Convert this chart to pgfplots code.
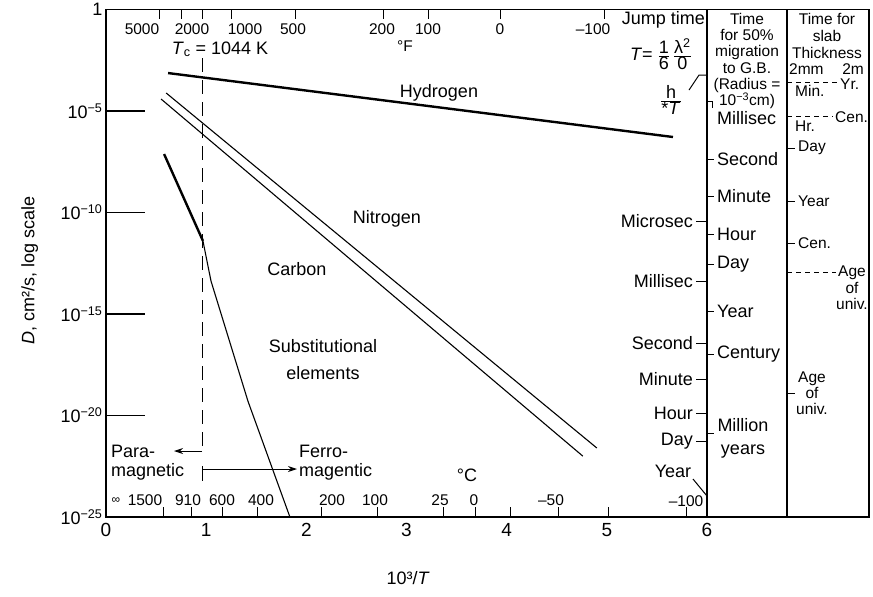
\documentclass[border=0pt]{standalone}
\usepackage{fontspec}
\setmainfont{Liberation Sans}
\usepackage{pgfplots}
\pgfplotsset{compat=1.18}
\usetikzlibrary{arrows.meta}
\newcommand\fa{\fontsize{18}{20}\selectfont}
\newcommand\fb{\fontsize{15.5}{16.2}\selectfont}
\newcommand\fx{\fontsize{19}{20}\selectfont}

\begin{document}
\begin{tikzpicture}
% page size = 873 x 595 px of the reference
\begin{scope}[shift={(-106pt,516pt)}, x=1pt, y=-1pt]
  \path[use as bounding box] (0,0) rectangle (873,595);
\end{scope}

\begin{axis}[
  scale only axis, width=763pt, height=507.5pt,
  xmin=0, xmax=7.617, ymin=-25, ymax=0,
  axis line style={line width=1.1pt},
  xtick={0,1,2,3,4,5,6}, xticklabels={0,1,2,3,4,5,6},
  xtick style={draw=none},
  xticklabel style={font=\fx, yshift=-3pt},
  ytick={-25,-20,-15,-10,-5,0},
  yticklabels={10\textsuperscript{−25},10\textsuperscript{−20},10\textsuperscript{−15},10\textsuperscript{−10},10\textsuperscript{−5},1},
  ytick pos=left, tick align=inside,
  ytick style={black, line width=1.3pt, /pgfplots/major tick length=39pt},
  yticklabel style={font=\fa},
  xlabel={10³/\textit{T}},
  xlabel style={font=\fa, at={(axis description cs:0.396,-0.12)}, anchor=center},
  ylabel={\textit{D}, cm²/s, log scale},
  ylabel style={font=\fa, at={(axis description cs:-0.1,0.485)}, anchor=center},
  clip=false,
]
% log10 D against 1000/T
\addplot[black, mark=none, line width=2.4pt] coordinates {(0.62,-3.13) (5.66,-6.28)}; % hydrogen
\addplot[black, mark=none, line width=1.1pt] coordinates {(0.60,-4.11) (4.90,-21.60)}; % nitrogen
\addplot[black, mark=none, line width=1.1pt] coordinates {(0.55,-4.41) (4.76,-22.00)}; % carbon
\addplot[black, mark=none, line width=2.4pt] coordinates {(0.58,-7.12) (0.968,-11.40)}; % substitutional, para
\addplot[black, mark=none, line width=1.1pt] coordinates {(0.968,-11.40) (1.048,-13.37) (1.417,-19.29) (1.836,-25)}; % ferro
\end{axis}

\begin{scope}[shift={(-106pt,516pt)}, x=1pt, y=-1pt, font=\fa, every node/.style={inner sep=0pt}]
  % column dividers
  \draw[line width=1.1pt] (707,8.5) -- (707,516);
  \draw[line width=1.1pt] (787,8.5) -- (787,516);

  % deg F scale (top)
  \foreach \p in {159,181,231,295,383,428,500,604} \draw[line width=1pt] (\p,8.5) -- (\p,18);
  \node[font=\fb, anchor=base] at (142,33) {5000};
  \node[font=\fb, anchor=base] at (192,33) {2000};
  \node[font=\fb, anchor=base] at (245,33) {1000};
  \node[font=\fb, anchor=base] at (293,33) {500};
  \node[font=\fb, anchor=base] at (382,33) {200};
  \node[font=\fb, anchor=base] at (428,33) {100};
  \node[font=\fb, anchor=base] at (500,33) {0};
  \node[font=\fb, anchor=base] at (593,33) {–100};
  \node[font=\fb, anchor=base] at (405,50) {°F};

  % deg C scale (bottom)
  \foreach \p in {163,191,222,257,321,377,443,475,510,558,608,686} \draw[line width=1pt] (\p,516) -- (\p,506);
  \node[font=\fontsize{12}{12}\selectfont, anchor=base] at (116,502) {∞};
  \node[font=\fb, anchor=base] at (145,504) {1500};
  \node[font=\fb, anchor=base] at (188,504) {910};
  \node[font=\fb, anchor=base] at (222,504) {600};
  \node[font=\fb, anchor=base] at (261,504) {400};
  \node[font=\fb, anchor=base] at (332,504) {200};
  \node[font=\fb, anchor=base] at (375,504) {100};
  \node[font=\fb, anchor=base] at (440,504) {25};
  \node[font=\fb, anchor=base] at (474,504) {0};
  \node[font=\fb, anchor=base] at (551,504) {–50};
  \node[font=\fb, anchor=base] at (686,505) {–100};
  \node at (467,474) {°C};

  % Curie temperature and magnetic regions
  \draw[line width=1pt] (202,8.5) -- (202,18);
  \draw[line width=1pt, dash pattern=on 14pt off 8pt] (202,57) -- (202,450);
  \node[anchor=base] at (220,53) {\textit{T}\textsubscript{c} = 1044 K};
  \draw[line width=1pt, -{Stealth[length=9pt,width=6pt]}] (202,450) -- (174,450);
  \draw[line width=1pt] (202,465) -- (202,480);
  \draw[line width=1pt, -{Stealth[length=9pt,width=6pt]}] (202,468) -- (297,468);
  \node[anchor=base west] at (111,456) {Para-};
  \node[anchor=base west] at (111,475) {magnetic};
  \node[anchor=base west] at (299,456) {Ferro-};
  \node[anchor=base west] at (299,475) {magentic};

  % curve labels
  \node[anchor=base] at (439,96) {Hydrogen};
  \node at (387,218) {Nitrogen};
  \node at (297,268) {Carbon};
  \node at (323,345) {Substitutional};
  \node at (323,372) {elements};

  % jump time scale
  \node[anchor=base east] at (705,23) {Jump time};
  \node at (661,53) {\textit{T}= $\frac{\mbox{1}}{\mbox{6}}\,\frac{\mbox{λ\textsuperscript{2}}}{\mbox{0}}$};
  \node at (671,99) {$\frac{\mbox{h}}{\mbox{*\textit{T}}}$};
  \draw[line width=1pt] (689,89) -- (699,74) -- (707,74);
  \foreach \y/\t in {220/Microsec,280/Millisec,342/Second,378/Minute,412/Hour,440/Day} {
    \draw[line width=1pt] (696,\y) -- (707,\y);
    \node[anchor=east] at (693,\y) {\t};
  }
  \node at (673,470) {Year};
  \draw[line width=1pt] (693,478) -- (707,495);

  % column 1: migration to grain boundary
  \node[font=\fb, align=center, anchor=north] at (747,12) {Time\\for 50\%\\migration\\to G.B.\\(Radius =\\10\textsuperscript{−3}cm)};
  \draw[line width=1pt] (707,100) -- (712,100) -- (712,107);
  \node[anchor=west] at (717,117) {Millisec};
  \foreach \y/\t in {158/Second,195/Minute,233/Hour,263/Day,310/Year,353/Century} {
    \draw[line width=1pt] (707,\y) -- (714,\y);
    \node[anchor=west] at (717,\y) {\t};
  }
  \draw[line width=1pt] (707,432) -- (714,432);
  \node[align=center, font=\fontsize{18}{23}\selectfont] at (743,437) {Million\\years};

  % column 2: slab thickness
  \node[font=\fb, anchor=base] at (827,23) {Time for};
  \node[font=\fb, anchor=base] at (827,40) {slab};
  \node[font=\fb, anchor=base] at (827,57) {Thickness};
  \node[font=\fb, anchor=base west] at (789,73) {2mm};
  \node[font=\fb, anchor=base east] at (864,73) {2m};
  \draw[line width=0.9pt, dash pattern=on 5pt off 4pt] (787,81) -- (838,81);
  \node[font=\fb, anchor=west] at (840,83) {Yr.};
  \node[font=\fb, anchor=west] at (795,90) {Min.};
  \draw[line width=0.9pt, dash pattern=on 5pt off 4pt] (787,115) -- (833,115);
  \node[font=\fb, anchor=west] at (835,116) {Cen.};
  \node[font=\fb, anchor=west] at (795,125) {Hr.};
  \foreach \y/\t in {147/Day,200/Year,242/Cen.} {
    \draw[line width=1pt] (787,\y) -- (795,\y);
    \node[font=\fb, anchor=west] at (798,\y) {\t};
  }
  \draw[line width=0.9pt, dash pattern=on 5pt off 4pt] (787,271) -- (836,271);
  \node[font=\fb, align=center, anchor=north] at (852,265) {Age\\of\\univ.};
  \draw[line width=1pt] (787,392) -- (795,392);
  \node[font=\fb, align=center] at (812,392) {Age\\of\\univ.};
\end{scope}
\end{tikzpicture}
\end{document}
